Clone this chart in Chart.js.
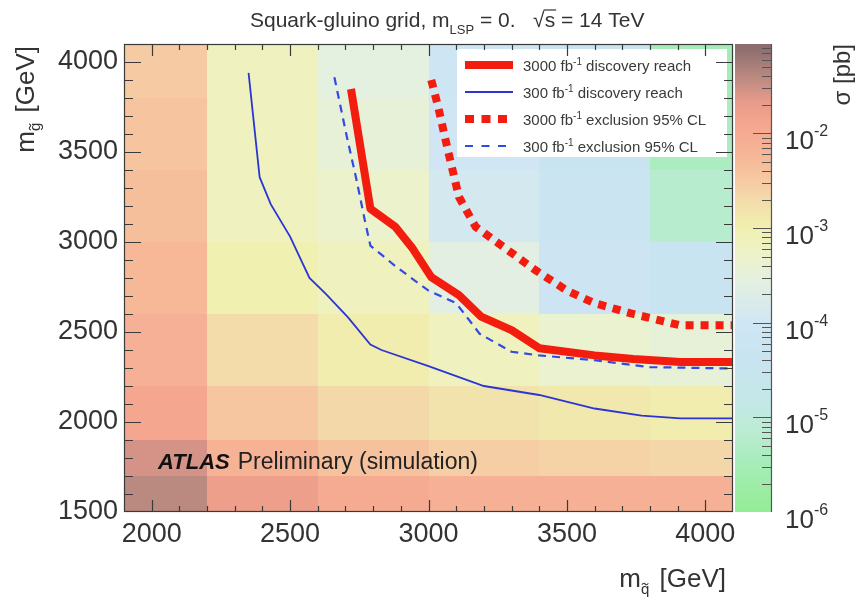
<!DOCTYPE html>
<html><head><meta charset="utf-8">
<script src="https://cdn.jsdelivr.net/npm/chart.js@4.4.1/dist/chart.umd.min.js"></script>
<style>html,body{margin:0;padding:0;background:#fff}</style>
</head><body>
<canvas id="c" width="858" height="602"></canvas>
<script>
// ---------------- data ----------------
const xTickValues = [2000, 2500, 3000, 3500, 4000];
const yTickValues = [1500, 2000, 2500, 3000, 3500, 4000];
const colorbarDecades = [1e-6, 1e-5, 1e-4, 1e-3, 1e-2];

// heat-map bins (GeV)
const squarkEdges = [1900, 2200, 2600, 3000, 3400, 3800, 4100];
const gluinoEdges = [1500, 1700, 1900, 2200, 2600, 3000, 3400, 3800, 4100];
// log10(sigma / pb) per squark bin, one array per gluino bin (bottom to top)
const logSigma1600 = [-1.40, -1.75, -2.00, -2.10, -2.10, -2.10];
const logSigma1800 = [-1.55, -2.15, -2.40, -2.55, -2.60, -2.65];
const logSigma2050 = [-1.90, -2.45, -2.68, -2.80, -2.88, -2.95];
const logSigma2400 = [-2.10, -2.70, -2.95, -3.15, -3.35, -3.45];
const logSigma2800 = [-2.25, -3.00, -3.15, -3.60, -4.15, -4.40];
const logSigma3200 = [-2.35, -3.15, -3.30, -3.90, -4.30, -5.20];
const logSigma3600 = [-2.42, -3.15, -3.45, -4.00, -4.35, -5.40];
const logSigma3950 = [-2.50, -3.15, -3.55, -4.10, -4.40, -5.50];

// curves
const disc3000X = [2720, 2790, 2880, 2940, 3010, 3110, 3190, 3300, 3400, 3600, 3740, 3910, 4100];
const disc3000Y = [3850, 3185, 3085, 2970, 2805, 2705, 2585, 2510, 2410, 2370, 2350, 2333, 2333];
const disc300X  = [2350, 2390, 2430, 2500, 2570, 2630, 2710, 2790, 2830, 3000, 3200, 3400, 3600, 3770, 3910, 4100];
const disc300Y  = [3940, 3360, 3210, 3030, 2800, 2710, 2580, 2430, 2400, 2310, 2200, 2150, 2075, 2035, 2020, 2020];
const excl3000X = [3010, 3035, 3070, 3110, 3170, 3255, 3385, 3500, 3600, 3740, 3910, 4100];
const excl3000Y = [3900, 3750, 3510, 3250, 3085, 2990, 2845, 2730, 2660, 2600, 2537, 2537];
const excl300X  = [2660, 2705, 2740, 2770, 2790, 2885, 3000, 3100, 3185, 3300, 3400, 3600, 3800, 4100];
const excl300Y  = [3915, 3585, 3345, 3120, 2980, 2860, 2730, 2660, 2490, 2390, 2370, 2343, 2305, 2297];

// ---------------- helpers ----------------
const FONT = '"Liberation Sans", Arial, Helvetica, sans-serif';
const logSigmaRows = [logSigma1600, logSigma1800, logSigma2050, logSigma2400, logSigma2800, logSigma3200, logSigma3600, logSigma3950];

const paletteStops = [
  [-6.00, [148, 236, 150]],
  [-5.88, [152, 236, 156]],
  [-5.45, [168, 236, 188]],
  [-5.14, [188, 236, 212]],
  [-4.82, [196, 232, 232]],
  [-4.40, [200, 228, 240]],
  [-4.00, [208, 230, 244]],
  [-3.55, [228, 240, 224]],
  [-3.24, [238, 243, 198]],
  [-3.00, [240, 240, 176]],
  [-2.71, [243, 220, 170]],
  [-2.50, [246, 202, 163]],
  [-2.29, [246, 186, 152]],
  [-2.07, [245, 174, 148]],
  [-1.86, [244, 164, 142]],
  [-1.65, [230, 154, 138]],
  [-1.44, [192, 140, 130]],
  [-1.12, [143, 112, 112]],
  [-1.00, [136, 104, 104]]
];
function colorFor(l) {
  if (l <= paletteStops[0][0]) return 'rgb(' + paletteStops[0][1].join(',') + ')';
  for (let i = 1; i < paletteStops.length; i++) {
    const [l1, c1] = paletteStops[i];
    const [l0, c0] = paletteStops[i - 1];
    if (l <= l1) {
      const t = (l - l0) / (l1 - l0);
      const c = c0.map((v, k) => Math.round(v + (c1[k] - v) * t));
      return 'rgb(' + c.join(',') + ')';
    }
  }
  return 'rgb(' + paletteStops[paletteStops.length - 1][1].join(',') + ')';
}

function drawRich(ctx, parts, x, y, color) {
  let cx = x;
  ctx.fillStyle = color; ctx.strokeStyle = color;
  for (const p of parts) {
    ctx.font = p.font;
    ctx.fillText(p.t, cx, y + (p.dy || 0));
    const w = ctx.measureText(p.t).width;
    if (p.tilde) {
      const tx = cx + w / 2, ty = y + (p.dy || 0) - p.tilde;
      ctx.save(); ctx.lineWidth = 1.1; ctx.beginPath();
      ctx.moveTo(tx - 3.2, ty + 0.8);
      ctx.bezierCurveTo(tx - 1.8, ty - 1.6, tx - 0.6, ty - 0.6, tx, ty);
      ctx.bezierCurveTo(tx + 0.6, ty + 0.6, tx + 1.8, ty + 1.6, tx + 3.2, ty - 0.8);
      ctx.stroke(); ctx.restore();
    }
    if (p.overline) {
      ctx.save(); ctx.lineWidth = 1.2; ctx.beginPath();
      ctx.moveTo(cx - 1, y - p.overline); ctx.lineTo(cx + w + 1, y - p.overline); ctx.stroke(); ctx.restore();
    }
    cx += w + (p.gap || 0);
  }
  return cx;
}
function richWidth(ctx, parts) {
  let w = 0;
  for (const p of parts) { ctx.font = p.font; w += ctx.measureText(p.t).width + (p.gap || 0); }
  return w;
}

// ---------------- plugins ----------------
const heatmapPlugin = {
  id: 'heatmap',
  beforeDatasetsDraw(chart) {
    const { ctx, chartArea: a } = chart;
    const xs = chart.scales.x, ys = chart.scales.y;
    ctx.save();
    ctx.beginPath(); ctx.rect(a.left, a.top, a.width, a.height); ctx.clip();
    for (let r = 0; r < gluinoEdges.length - 1; r++) {
      const yb = Math.round(ys.getPixelForValue(gluinoEdges[r]));
      const yt = Math.round(ys.getPixelForValue(gluinoEdges[r + 1]));
      for (let c = 0; c < squarkEdges.length - 1; c++) {
        const xl = Math.round(xs.getPixelForValue(squarkEdges[c]));
        const xr = Math.round(xs.getPixelForValue(squarkEdges[c + 1]));
        ctx.fillStyle = colorFor(logSigmaRows[r][c]);
        ctx.fillRect(xl, yt, xr - xl, yb - yt);
      }
    }
    ctx.restore();
  }
};

const decorPlugin = {
  id: 'decor',
  afterDraw(chart) {
    const { ctx, chartArea: a } = chart;
    const xs = chart.scales.x, ys = chart.scales.y, cs = chart.scales.cb;
    const ink = '#333333';

    // ---- legend ----
    ctx.save();
    ctx.fillStyle = '#ffffff';
    ctx.fillRect(457, 49, 270, 108);
    const legendRows = [
      { label: '3000', rest: ' discovery reach', color: '#f21d0f', width: 8, dash: [] },
      { label: '300', rest: ' discovery reach', color: '#2b35d6', width: 1.8, dash: [] },
      { label: '3000', rest: ' exclusion 95% CL', color: '#f21d0f', width: 8, dash: [9, 7.5] },
      { label: '300', rest: ' exclusion 95% CL', color: '#3548e0', width: 2.2, dash: [8, 8.5] }
    ];
    const rowY = [65, 92, 119, 146];
    legendRows.forEach((r, i) => {
      ctx.save();
      ctx.strokeStyle = r.color; ctx.lineWidth = r.width; ctx.setLineDash(r.dash); ctx.lineCap = 'butt';
      ctx.beginPath(); ctx.moveTo(465, rowY[i]); ctx.lineTo(513, rowY[i]); ctx.stroke();
      ctx.restore();
      ctx.textBaseline = 'alphabetic';
      drawRich(ctx, [
        { t: r.label + ' fb', font: '15px ' + FONT },
        { t: '-1', font: '10px ' + FONT, dy: -6 },
        { t: r.rest, font: '15px ' + FONT }
      ], 523, rowY[i] + 5.5, '#3a3a3a');
    });
    ctx.restore();

    // ---- frame + ticks ----
    ctx.save();
    ctx.strokeStyle = '#3a3a3a'; ctx.lineWidth = 1.2;
    ctx.strokeRect(a.left + 0.5, a.top + 0.5, a.width - 1, a.height - 1);
    ctx.beginPath();
    for (let v = 1600; v < 4100; v += 100) {
      const py = Math.round(ys.getPixelForValue(v)) + 0.5;
      const len = (v % 500 === 0) ? 17 : 9;
      ctx.moveTo(a.left, py); ctx.lineTo(a.left + len, py);
      ctx.moveTo(a.right, py); ctx.lineTo(a.right - len, py);
    }
    for (let v = 2000; v < 4100; v += 100) {
      const px = Math.round(xs.getPixelForValue(v)) + 0.5;
      const len = (v % 500 === 0) ? 12 : 6;
      ctx.moveTo(px, a.bottom); ctx.lineTo(px, a.bottom - len);
      ctx.moveTo(px, a.top); ctx.lineTo(px, a.top + len);
    }
    ctx.stroke();
    ctx.restore();

    // ---- ATLAS label ----
    ctx.save();
    ctx.textBaseline = 'alphabetic';
    ctx.fillStyle = '#111';
    ctx.font = 'italic bold 22px ' + FONT;
    ctx.fillText('ATLAS', 158, 469);
    const wA = ctx.measureText('ATLAS').width;
    ctx.font = '23px ' + FONT;
    ctx.fillStyle = '#222';
    ctx.fillText('Preliminary (simulation)', 158 + wA + 8, 469);
    ctx.restore();

    // ---- colour bar ----
    ctx.save();
    const cbL = 735, cbR = 771;
    const top = Math.round(cs.top), bot = Math.round(cs.bottom);
    for (let py = top; py < bot; py++) {
      const v = cs.getValueForPixel(py + 0.5);
      ctx.fillStyle = colorFor(Math.log10(v));
      ctx.fillRect(cbL, py, cbR - cbL, 1);
    }
    ctx.strokeStyle = '#555'; ctx.lineWidth = 1.2;
    ctx.beginPath();
    ctx.moveTo(cbR + 0.5, top); ctx.lineTo(cbR + 0.5, bot);
    for (let e = -6; e <= -2; e++) {
      for (let k = 1; k <= 9; k++) {
        const v = k * Math.pow(10, e);
        if (v > cs.max || (e === -6 && k === 1)) continue;
        const py = Math.round(cs.getPixelForValue(v)) + 0.5;
        const len = k === 1 ? 18 : 9;
        ctx.moveTo(cbR, py); ctx.lineTo(cbR - len, py);
      }
    }
    ctx.stroke();
    ctx.textBaseline = 'alphabetic';
    colorbarDecades.forEach(v => {
      const py = cs.getPixelForValue(v);
      const exp = Math.round(Math.log10(v));
      drawRich(ctx, [
        { t: '10', font: '26px ' + FONT },
        { t: String(exp), font: '16px ' + FONT, dy: -13 }
      ], 785, py + 16, ink);
    });
    ctx.restore();

    // ---- titles ----
    ctx.save();
    ctx.textBaseline = 'alphabetic';
    drawRich(ctx, [
      { t: 'Squark-gluino grid, m', font: '21px ' + FONT },
      { t: 'LSP', font: '13px ' + FONT, dy: 7 },
      { t: ' = 0.   ', font: '21px ' + FONT },
      { t: '\u221A', font: '21px ' + FONT },
      { t: 's', font: '21px ' + FONT, overline: 17 },
      { t: ' = 14 TeV', font: '21px ' + FONT }
    ], 250, 27, '#333');

    const xParts = [
      { t: 'm', font: '26px ' + FONT },
      { t: 'q', font: '15px ' + FONT, dy: 7, tilde: 10, gap: 3 },
      { t: ' [GeV]', font: '26px ' + FONT }
    ];
    drawRich(ctx, xParts, 726 - richWidth(ctx, xParts), 587, ink);

    const yParts = [
      { t: 'm', font: '26px ' + FONT },
      { t: 'g', font: '15px ' + FONT, dy: 6, tilde: 10, gap: 3 },
      { t: ' [GeV]', font: '26px ' + FONT }
    ];
    ctx.save();
    ctx.translate(34, 46);
    ctx.rotate(-Math.PI / 2);
    drawRich(ctx, yParts, -richWidth(ctx, yParts), 0, ink);
    ctx.restore();

    const cParts = [{ t: '\u03C3 [pb]', font: '24px ' + FONT }];
    ctx.save();
    ctx.translate(850, 44);
    ctx.rotate(-Math.PI / 2);
    drawRich(ctx, cParts, -richWidth(ctx, cParts), 0, ink);
    ctx.restore();
    ctx.restore();
  }
};

// ---------------- chart ----------------
const toPts = (xs, ys) => xs.map((x, i) => ({ x, y: ys[i] }));
const tickFont = { family: FONT, size: 27 };

new Chart(document.getElementById('c'), {
  type: 'line',
  data: {
    datasets: [
      { label: '3000 fb-1 discovery reach', data: toPts(disc3000X, disc3000Y), borderColor: '#f21d0f', borderWidth: 8, pointRadius: 0, tension: 0, borderJoinStyle: 'round' },
      { label: '300 fb-1 discovery reach', data: toPts(disc300X, disc300Y), borderColor: '#2b35d6', borderWidth: 1.8, pointRadius: 0, tension: 0 },
      { label: '3000 fb-1 exclusion 95% CL', data: toPts(excl3000X, excl3000Y), borderColor: '#f21d0f', borderWidth: 8, borderDash: [8, 7], borderCapStyle: 'butt', pointRadius: 0, tension: 0 },
      { label: '300 fb-1 exclusion 95% CL', data: toPts(excl300X, excl300Y), borderColor: '#3548e0', borderWidth: 2.2, borderDash: [8, 6], pointRadius: 0, tension: 0 }
    ]
  },
  options: {
    responsive: false,
    animation: false,
    devicePixelRatio: 1,
    layout: { padding: { left: 0, right: 125, top: 44, bottom: 0 } },
    plugins: { legend: { display: false }, tooltip: { enabled: false }, title: { display: false } },
    scales: {
      x: {
        type: 'linear', min: 1900, max: 4100,
        afterFit(s) { s.height = 90; },
        afterBuildTicks(s) { s.ticks = xTickValues.map(v => ({ value: v })); },
        grid: { display: false, drawTicks: false },
        border: { display: false },
        ticks: { font: tickFont, color: '#333', padding: 6, maxRotation: 0, autoSkip: false, callback: v => String(v) }
      },
      y: {
        type: 'linear', min: 1500, max: 4100,
        afterFit(s) { s.width = 124; },
        afterBuildTicks(s) { s.ticks = yTickValues.map(v => ({ value: v })); },
        grid: { display: false, drawTicks: false },
        border: { display: false },
        ticks: { font: tickFont, color: '#333', padding: 6, autoSkip: false, callback: v => String(v) }
      },
      cb: { type: 'logarithmic', display: false, position: 'right', min: 1e-6, max: 0.088 }
    }
  },
  plugins: [heatmapPlugin, decorPlugin]
});
</script>
</body></html>
